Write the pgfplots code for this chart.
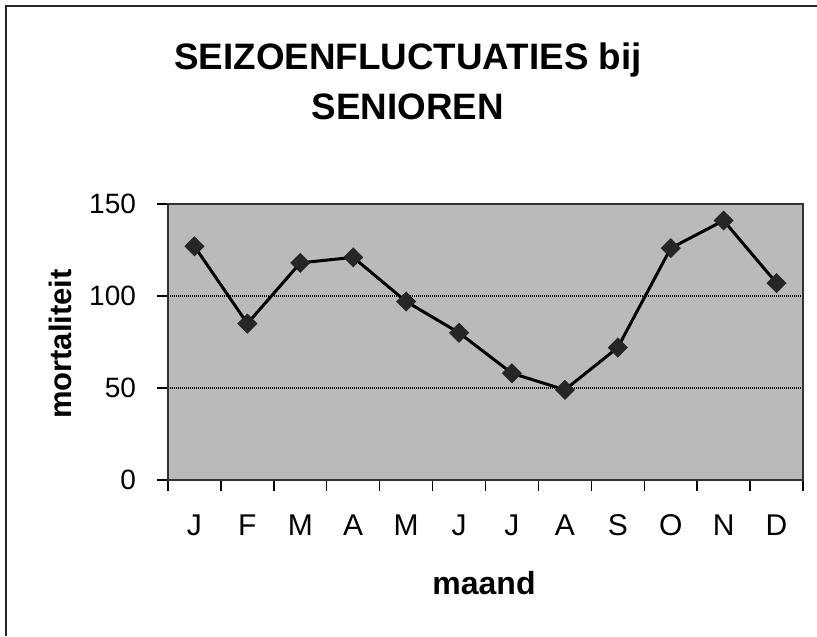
\documentclass[border=0pt]{standalone}
\usepackage{fontspec}
\setmainfont{Liberation Sans}
\usepackage{pgfplots}
\pgfplotsset{compat=1.18}
\definecolor{plotbg}{RGB}{186,186,186}
\definecolor{boxline}{RGB}{50,50,50}

\begin{document}
\begin{tikzpicture}
\useasboundingbox (-84pt,-78pt) rectangle (324.5pt,240pt);
% outer chart frame (only left and top edges are visible)
\draw[line width=1.2pt, black!85] (-81pt,-78pt) -- (-81pt,237pt) -- (324.5pt,237pt);

\begin{axis}[
    at={(0,0)}, anchor=south west,
    scale only axis, width=317.5pt, height=138pt,
    xmin=0.5, xmax=12.5, ymin=0, ymax=150,
    xtick={1,...,12},
    xticklabels={J,F,M,A,M,J,J,A,S,O,N,D},
    minor xtick={0.5,1.5,...,12.5},
    ytick={0,50,100,150},
    tick pos=left,
    tick align=outside,
    major tick length=5.5pt, minor tick length=5.5pt,
    major x tick style={draw=none},
    tick style={black, line width=0.7pt},
    xticklabel style={font=\fontsize{15}{15}\selectfont, anchor=base, yshift=-22pt},
    yticklabel style={font=\fontsize{14}{14}\selectfont, xshift=-7pt},
    /pgf/number format/assume math mode=true,
    axis background/.style={fill=plotbg},
    axis line style={boxline, line width=0.9pt},
    ymajorgrids,
    major grid style={black, line width=0.7pt, dash pattern=on 0.6pt off 0.4pt},
]
\addplot[black, line width=1.5pt, mark=square*,
         mark size=2.8pt, mark options={rotate=45, fill=black!85, draw=black!85}]
  coordinates {(1,127) (2,85) (3,118) (4,121) (5,97) (6,80)
               (7,58) (8,49) (9,72) (10,126) (11,141) (12,107)};
\end{axis}

\node[font=\fontsize{18.4}{22}\selectfont\bfseries, anchor=base] at (120pt,205pt) {SEIZOENFLUCTUATIES bij};
\node[font=\fontsize{18.4}{22}\selectfont\bfseries, anchor=base] at (120pt,180pt) {SENIOREN};
\node[font=\fontsize{16}{16}\selectfont\bfseries, anchor=base] at (158pt,-57pt) {maand};
\node[font=\fontsize{15.5}{16}\selectfont\bfseries, anchor=base, rotate=90] at (-48pt,68pt) {mortaliteit};
\end{tikzpicture}
\end{document}
